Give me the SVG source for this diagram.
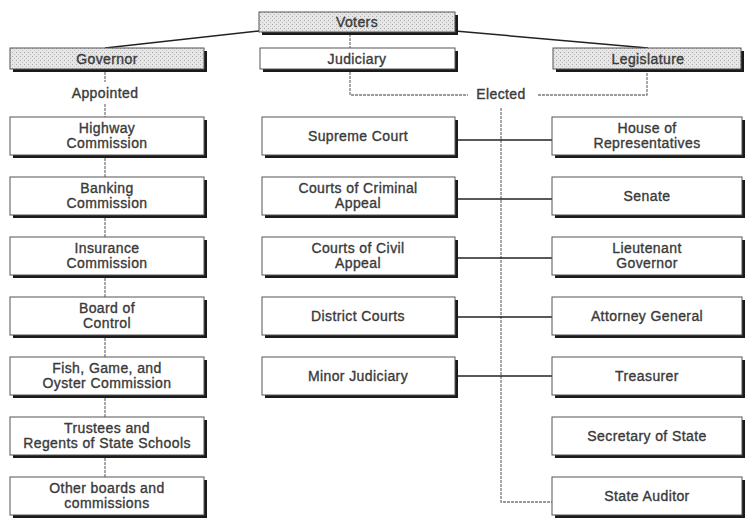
<svg xmlns="http://www.w3.org/2000/svg" width="745" height="518" viewBox="0 0 745 518">
<defs>
<pattern id="dots" width="4" height="4" patternUnits="userSpaceOnUse">
<rect width="4" height="4" fill="#e6e6e6"/>
<rect x="0" y="0" width="1" height="1" fill="#a8a8a8"/>
<rect x="2" y="2" width="1" height="1" fill="#c0c0c0"/>
</pattern>
</defs>
<style>
.sh{fill:#1a1a1a}
.bx{fill:#fff;stroke:#555;stroke-width:1}
.gr{fill:url(#dots);stroke:#555;stroke-width:1}
.t{font-family:"Liberation Sans",Arial,sans-serif;font-size:14px;fill:#3a3a3a;stroke:#3a3a3a;stroke-width:0.35px;text-anchor:middle;letter-spacing:0.4px}
.ln{fill:none;stroke:#222;stroke-width:1.5}
.lg{fill:none;stroke:#7a7a7a;stroke-width:1.3;stroke-dasharray:3 1}
</style>
<rect width="745" height="518" fill="#fff"/>

<g id="connectors">
<line class="ln" x1="259" y1="31" x2="105" y2="48"/>
<line class="ln" x1="455" y1="31" x2="648" y2="48"/>
<line class="lg" x1="350" y1="34" x2="350" y2="48"/>
<polyline class="lg" points="350,72 350,95 468,95"/>
<polyline class="lg" points="538,95 647,95 647,72"/>
<polyline class="lg" points="501,108 501,502 552,502"/>
<line class="lg" x1="105" y1="72" x2="105" y2="82"/>
<line class="lg" x1="105" y1="104" x2="105" y2="117"/>
<line class="lg" x1="105" y1="158" x2="105" y2="177"/>
<line class="lg" x1="105" y1="218" x2="105" y2="237"/>
<line class="lg" x1="105" y1="278" x2="105" y2="297"/>
<line class="lg" x1="105" y1="338" x2="105" y2="357"/>
<line class="lg" x1="105" y1="398" x2="105" y2="417"/>
<line class="lg" x1="105" y1="458" x2="105" y2="477"/>
<line class="ln" x1="458" y1="140" x2="552" y2="140"/>
<line class="ln" x1="458" y1="199" x2="552" y2="199"/>
<line class="ln" x1="458" y1="258" x2="552" y2="258"/>
<line class="ln" x1="458" y1="317" x2="552" y2="317"/>
<line class="ln" x1="458" y1="376" x2="552" y2="376"/>
<text class="t" x="105" y="98">Appointed</text>
<text class="t" x="501" y="99">Elected</text>
</g>

<g id="voters"><rect class="sh" x="262" y="15" width="196" height="20"/><rect class="gr" x="259" y="12" width="196" height="20"/><text class="t" x="357" y="27">Voters</text></g>
<g id="governor"><rect class="sh" x="13" y="51" width="194" height="21"/><rect class="gr" x="10" y="48" width="194" height="21"/><text class="t" x="107" y="64">Governor</text></g>
<g id="judiciary"><rect class="sh" x="263" y="51" width="195" height="21"/><rect class="bx" x="260" y="48" width="195" height="21"/><text class="t" x="357" y="64">Judiciary</text></g>
<g id="legislature"><rect class="sh" x="556" y="51" width="188" height="21"/><rect class="gr" x="553" y="48" width="188" height="21"/><text class="t" x="648" y="64">Legislature</text></g>

<g id="highway"><rect class="sh" x="13" y="120" width="194" height="38"/><rect class="bx" x="10" y="117" width="194" height="38"/><text class="t" x="107" y="133">Highway</text><text class="t" x="107" y="148">Commission</text></g>
<g id="banking"><rect class="sh" x="13" y="180" width="194" height="38"/><rect class="bx" x="10" y="177" width="194" height="38"/><text class="t" x="107" y="193">Banking</text><text class="t" x="107" y="208">Commission</text></g>
<g id="insurance"><rect class="sh" x="13" y="240" width="194" height="38"/><rect class="bx" x="10" y="237" width="194" height="38"/><text class="t" x="107" y="253">Insurance</text><text class="t" x="107" y="268">Commission</text></g>
<g id="board"><rect class="sh" x="13" y="300" width="194" height="38"/><rect class="bx" x="10" y="297" width="194" height="38"/><text class="t" x="107" y="313">Board of</text><text class="t" x="107" y="328">Control</text></g>
<g id="fish"><rect class="sh" x="13" y="360" width="194" height="38"/><rect class="bx" x="10" y="357" width="194" height="38"/><text class="t" x="107" y="373">Fish, Game, and</text><text class="t" x="107" y="388">Oyster Commission</text></g>
<g id="trustees"><rect class="sh" x="13" y="420" width="194" height="38"/><rect class="bx" x="10" y="417" width="194" height="38"/><text class="t" x="107" y="433">Trustees and</text><text class="t" x="107" y="448">Regents of State Schools</text></g>
<g id="other"><rect class="sh" x="13" y="480" width="194" height="38"/><rect class="bx" x="10" y="477" width="194" height="38"/><text class="t" x="107" y="493">Other boards and</text><text class="t" x="107" y="508">commissions</text></g>

<g id="supreme"><rect class="sh" x="265" y="120" width="193" height="38"/><rect class="bx" x="262" y="117" width="193" height="38"/><text class="t" x="358" y="141">Supreme Court</text></g>
<g id="criminal"><rect class="sh" x="265" y="180" width="193" height="38"/><rect class="bx" x="262" y="177" width="193" height="38"/><text class="t" x="358" y="193">Courts of Criminal</text><text class="t" x="358" y="208">Appeal</text></g>
<g id="civil"><rect class="sh" x="265" y="240" width="193" height="38"/><rect class="bx" x="262" y="237" width="193" height="38"/><text class="t" x="358" y="253">Courts of Civil</text><text class="t" x="358" y="268">Appeal</text></g>
<g id="district"><rect class="sh" x="265" y="300" width="193" height="38"/><rect class="bx" x="262" y="297" width="193" height="38"/><text class="t" x="358" y="321">District Courts</text></g>
<g id="minor"><rect class="sh" x="265" y="360" width="193" height="38"/><rect class="bx" x="262" y="357" width="193" height="38"/><text class="t" x="358" y="381">Minor Judiciary</text></g>

<g id="house"><rect class="sh" x="555" y="120" width="190" height="38"/><rect class="bx" x="552" y="117" width="190" height="38"/><text class="t" x="647" y="133">House of</text><text class="t" x="647" y="148">Representatives</text></g>
<g id="senate"><rect class="sh" x="555" y="180" width="190" height="38"/><rect class="bx" x="552" y="177" width="190" height="38"/><text class="t" x="647" y="201">Senate</text></g>
<g id="ltgov"><rect class="sh" x="555" y="240" width="190" height="38"/><rect class="bx" x="552" y="237" width="190" height="38"/><text class="t" x="647" y="253">Lieutenant</text><text class="t" x="647" y="268">Governor</text></g>
<g id="attorney"><rect class="sh" x="555" y="300" width="190" height="38"/><rect class="bx" x="552" y="297" width="190" height="38"/><text class="t" x="647" y="321">Attorney General</text></g>
<g id="treasurer"><rect class="sh" x="555" y="360" width="190" height="38"/><rect class="bx" x="552" y="357" width="190" height="38"/><text class="t" x="647" y="381">Treasurer</text></g>
<g id="secretary"><rect class="sh" x="555" y="420" width="190" height="38"/><rect class="bx" x="552" y="417" width="190" height="38"/><text class="t" x="647" y="441">Secretary of State</text></g>
<g id="auditor"><rect class="sh" x="555" y="480" width="190" height="38"/><rect class="bx" x="552" y="477" width="190" height="38"/><text class="t" x="647" y="501">State Auditor</text></g>
</svg>
